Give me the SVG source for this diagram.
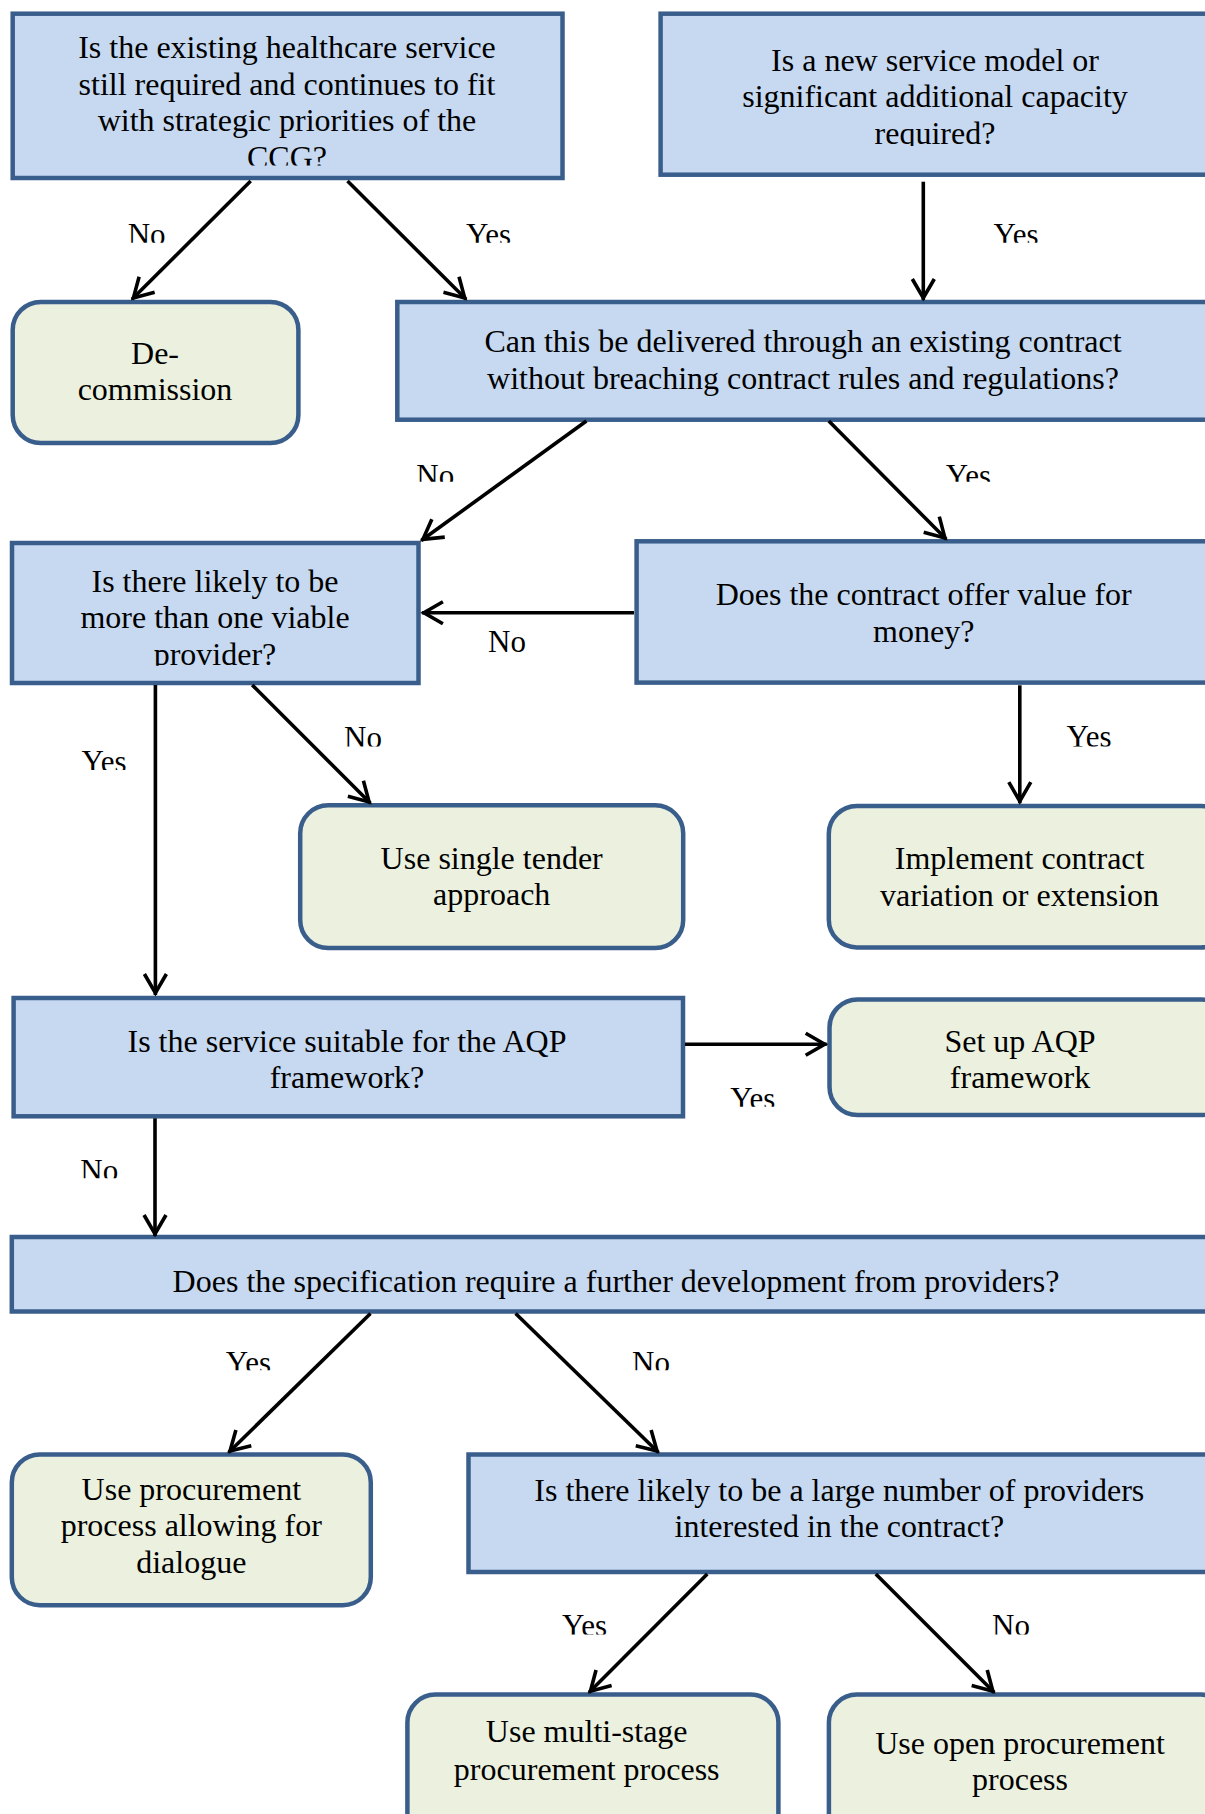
<svg xmlns="http://www.w3.org/2000/svg" width="1205" height="1814" viewBox="0 0 1205 1814">
<defs>
<style>
.q{fill:#C6D9F1;stroke:#3A5E8C;stroke-width:4.5}
.a{fill:#EBF1DE;stroke:#3A5E8C;stroke-width:4.5}
text{font-family:"Liberation Serif","Times New Roman",serif;fill:#000}
.t{font-size:32px;text-anchor:middle}
.l{font-size:31px;text-anchor:middle}
.c{stroke:#000;stroke-width:3.6;fill:none;marker-end:url(#ah)}
</style>
<marker id="ah" markerUnits="userSpaceOnUse" markerWidth="30" markerHeight="30" viewBox="-25 -15 30 30" refX="0" refY="0" orient="auto">
<path d="M-21,-11 L-2,0 L-21,11" fill="none" stroke="#000" stroke-width="3.6"/>
</marker>
<clipPath id="cA"><rect x="0" y="0" width="1205" height="165.5"/></clipPath>
<clipPath id="cB"><rect x="0" y="0" width="1205" height="146"/></clipPath>
<clipPath id="cE"><rect x="0" y="0" width="1205" height="665.7"/></clipPath>
<clipPath id="k1"><rect x="0" y="0" width="1205" height="242.7"/></clipPath>
<clipPath id="k2"><rect x="0" y="0" width="1205" height="481.7"/></clipPath>
<clipPath id="k3"><rect x="0" y="0" width="1205" height="746.5"/></clipPath>
<clipPath id="k4"><rect x="0" y="0" width="1205" height="770"/></clipPath>
<clipPath id="k5"><rect x="0" y="0" width="1205" height="1106.7"/></clipPath>
<clipPath id="k6"><rect x="0" y="0" width="1205" height="1178.3"/></clipPath>
<clipPath id="k7"><rect x="0" y="0" width="1205" height="1370.3"/></clipPath>
<clipPath id="k8"><rect x="0" y="0" width="1205" height="1634.5"/></clipPath>
</defs>
<rect x="0" y="0" width="1205" height="1814" fill="#fff"/>

<g id="nodeA">
<rect class="q" x="12.7" y="13.7" width="549.8" height="164.3"/>
<text class="t" clip-path="url(#cA)"><tspan x="287" y="58.3">Is the existing healthcare service</tspan><tspan x="287" y="94.5">still required and continues to fit</tspan><tspan x="287" y="130.8">with strategic priorities of the</tspan><tspan x="287" y="167.5">CCG?</tspan></text>
</g>
<g id="nodeB">
<rect class="q" x="660.6" y="13.7" width="560" height="161"/>
<text class="t" clip-path="url(#cB)"><tspan x="935" y="70.7">Is a new service model or</tspan><tspan x="935" y="107.3">significant additional capacity</tspan><tspan x="935" y="144">required?</tspan></text>
</g>
<g id="nodeC">
<rect class="q" x="397.3" y="302" width="830" height="117.7"/>
<text class="t"><tspan x="803" y="352.3">Can this be delivered through an existing contract</tspan><tspan x="803" y="389">without breaching contract rules and regulations?</tspan></text>
</g>
<g id="nodeD">
<rect class="a" x="12.7" y="302" width="285.7" height="141" rx="28" ry="28"/>
<text class="t"><tspan x="155" y="364.3">De-</tspan><tspan x="155" y="400.3">commission</tspan></text>
</g>
<g id="nodeE">
<rect class="q" x="12" y="543" width="406.5" height="140"/>
<text class="t" clip-path="url(#cE)"><tspan x="215" y="591.7">Is there likely to be</tspan><tspan x="215" y="628.3">more than one viable</tspan><tspan x="215" y="665">provider?</tspan></text>
</g>
<g id="nodeF">
<rect class="q" x="636.6" y="541.3" width="590" height="141.3"/>
<text class="t"><tspan x="923.7" y="605">Does the contract offer value for</tspan><tspan x="923.7" y="641.7">money?</tspan></text>
</g>
<g id="nodeG">
<rect class="a" x="300.2" y="805.3" width="383" height="142.7" rx="28" ry="28"/>
<text class="t"><tspan x="491.7" y="868.5">Use single tender</tspan><tspan x="491.7" y="905">approach</tspan></text>
</g>
<g id="nodeH">
<rect class="a" x="828.8" y="806" width="400" height="141.4" rx="28" ry="28"/>
<text class="t"><tspan x="1019.6" y="869">Implement contract</tspan><tspan x="1019.6" y="905.8">variation or extension</tspan></text>
</g>
<g id="nodeI">
<rect class="q" x="13.6" y="998" width="669.4" height="118.3"/>
<text class="t"><tspan x="347" y="1051.5">Is the service suitable for the AQP</tspan><tspan x="347" y="1088">framework?</tspan></text>
</g>
<g id="nodeJ">
<rect class="a" x="829.5" y="999.5" width="400" height="115.5" rx="28" ry="28"/>
<text class="t"><tspan x="1020" y="1052">Set up AQP</tspan><tspan x="1020" y="1088.3">framework</tspan></text>
</g>
<g id="nodeK">
<rect class="q" x="11.8" y="1237" width="1215" height="74.5"/>
<text class="t"><tspan x="616" y="1292">Does the specification require a further development from providers?</tspan></text>
</g>
<g id="nodeL">
<rect class="a" x="11.8" y="1454.5" width="359" height="150.7" rx="28" ry="28"/>
<text class="t"><tspan x="191.3" y="1499.5">Use procurement</tspan><tspan x="191.3" y="1536">process allowing for</tspan><tspan x="191.3" y="1572.5">dialogue</tspan></text>
</g>
<g id="nodeM">
<rect class="q" x="468.5" y="1454.5" width="760" height="117.5"/>
<text class="t"><tspan x="839.3" y="1501.3">Is there likely to be a large number of providers</tspan><tspan x="839.3" y="1537">interested in the contract?</tspan></text>
</g>
<g id="nodeN">
<rect class="a" x="407.4" y="1694.6" width="371" height="160" rx="28" ry="28"/>
<text class="t"><tspan x="586.7" y="1742.3">Use multi-stage</tspan><tspan x="586.7" y="1779.5">procurement process</tspan></text>
</g>
<g id="nodeO">
<rect class="a" x="828.9" y="1694.6" width="400" height="160" rx="28" ry="28"/>
<text class="t"><tspan x="1020" y="1754">Use open procurement</tspan><tspan x="1020" y="1790">process</tspan></text>
</g>

<g id="connectors">
<line class="c" x1="250.7" y1="181" x2="132" y2="299.3"/>
<line class="c" x1="347.5" y1="181" x2="466.1" y2="299.3"/>
<line class="c" x1="923.3" y1="181.7" x2="923.3" y2="300"/>
<line class="c" x1="586.4" y1="421" x2="421.3" y2="540.5"/>
<line class="c" x1="828.8" y1="421" x2="946.3" y2="539.3"/>
<line class="c" x1="634" y1="612.7" x2="421.9" y2="612.7"/>
<line class="c" x1="252.2" y1="685" x2="370.5" y2="803.3"/>
<line class="c" x1="155.4" y1="685" x2="155.4" y2="995"/>
<line class="c" x1="1019.8" y1="685.3" x2="1019.8" y2="803.2"/>
<line class="c" x1="685" y1="1044.3" x2="826.7" y2="1044.3"/>
<line class="c" x1="155" y1="1118.3" x2="155" y2="1236"/>
<line class="c" x1="370.5" y1="1313.5" x2="228.6" y2="1452.5"/>
<line class="c" x1="515.6" y1="1313.5" x2="658.5" y2="1452.5"/>
<line class="c" x1="707.3" y1="1574" x2="589" y2="1692.6"/>
<line class="c" x1="875.8" y1="1574" x2="994.3" y2="1692.6"/>
<g id="labels">
<text class="l" x="146.6" y="244.5" clip-path="url(#k1)">No</text>
<text class="l" x="488.5" y="244.5" clip-path="url(#k1)">Yes</text>
<text class="l" x="1016" y="244.5" clip-path="url(#k1)">Yes</text>
<text class="l" x="435.3" y="485.5" clip-path="url(#k2)">No</text>
<text class="l" x="968.4" y="485.5" clip-path="url(#k2)">Yes</text>
<text class="l" x="507" y="652.2">No</text>
<text class="l" x="363" y="747.8" clip-path="url(#k3)">No</text>
<text class="l" x="104" y="772.2" clip-path="url(#k4)">Yes</text>
<text class="l" x="1089" y="747.2" clip-path="url(#k3)">Yes</text>
<text class="l" x="752.7" y="1108.8" clip-path="url(#k5)">Yes</text>
<text class="l" x="99.2" y="1181.2" clip-path="url(#k6)">No</text>
<text class="l" x="248.4" y="1373.2" clip-path="url(#k7)">Yes</text>
<text class="l" x="651" y="1373.2" clip-path="url(#k7)">No</text>
<text class="l" x="584.5" y="1636.3" clip-path="url(#k8)">Yes</text>
<text class="l" x="1011" y="1636.3" clip-path="url(#k8)">No</text>
</g>
</g>
</svg>
